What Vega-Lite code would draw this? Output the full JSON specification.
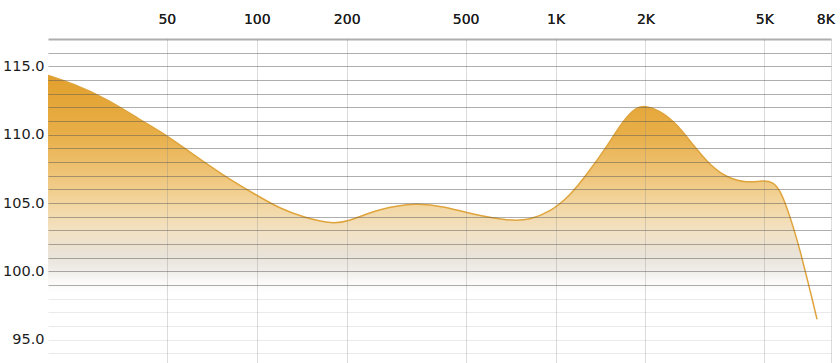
{
  "$schema": "https://vega.github.io/schema/vega-lite/v6.json",
  "width": 783,
  "height": 324,
  "autosize": {"type": "none"},
  "padding": {"left": 48, "top": 39, "right": 9, "bottom": 0},
  "background": "white",
  "config": {
    "view": {"stroke": null},
    "axis": {"labelFont": "DejaVu Sans", "labelFontSize": 14.5, "labelColor": "#1c1c1c", "title": null, "ticks": false, "domain": false}
  },
  "data": {
    "values": [
      {"f": 20, "db": 114.34},
      {"f": 24.25, "db": 113.73},
      {"f": 31.4, "db": 112.64},
      {"f": 40.6, "db": 111.1},
      {"f": 50, "db": 109.95},
      {"f": 59.6, "db": 108.73},
      {"f": 77.1, "db": 107.03},
      {"f": 100, "db": 105.56},
      {"f": 119.4, "db": 104.6},
      {"f": 142.9, "db": 103.97},
      {"f": 175.6, "db": 103.49},
      {"f": 200, "db": 103.6},
      {"f": 258, "db": 104.6},
      {"f": 342.7, "db": 105.03},
      {"f": 420.6, "db": 104.76},
      {"f": 516.8, "db": 104.22},
      {"f": 703, "db": 103.68},
      {"f": 821, "db": 103.78},
      {"f": 957, "db": 104.34},
      {"f": 1117, "db": 105.5},
      {"f": 1303, "db": 107.39},
      {"f": 1483, "db": 109.1},
      {"f": 1685, "db": 111.05},
      {"f": 1869, "db": 112.03},
      {"f": 1992, "db": 112.12},
      {"f": 2236, "db": 111.78},
      {"f": 2544, "db": 110.8},
      {"f": 2893, "db": 109.22},
      {"f": 3289, "db": 107.76},
      {"f": 3740, "db": 106.86},
      {"f": 4364, "db": 106.46},
      {"f": 4960, "db": 106.66},
      {"f": 5358, "db": 106.54},
      {"f": 5642, "db": 105.93},
      {"f": 5942, "db": 104.71},
      {"f": 6252, "db": 103.24},
      {"f": 6585, "db": 101.54},
      {"f": 6932, "db": 99.59},
      {"f": 7206, "db": 98.12},
      {"f": 7506, "db": 96.5}
    ]
  },
  "encoding": {
    "x": {
      "field": "f",
      "type": "quantitative",
      "scale": {"type": "log", "domain": [20, 8360], "nice": false},
      "axis": {
        "orient": "top",
        "values": [50, 100, 200, 500, 1000, 2000, 5000, 8000],
        "labelExpr": "datum.value >= 1000 ? (datum.value / 1000) + 'K' : datum.value",
        "grid": false,
        "labelPadding": 13,
        "labelFontSize": 14
      }
    },
    "y": {
      "field": "db",
      "type": "quantitative",
      "scale": {"domain": [93.3, 117], "nice": false, "zero": false},
      "axis": {
        "values": [94, 95, 96, 97, 98, 99, 100, 101, 102, 103, 104, 105, 106, 107, 108, 109, 110, 111, 112, 113, 114, 115, 116, 117],
        "labelExpr": "datum.value % 5 === 0 ? format(datum.value, '.1f') : ''",
        "labelPadding": 4,
        "grid": true,
        "gridColor": "#555555",
        "gridOpacity": {"condition": {"test": "datum.value < 99", "value": 0.12}, "value": 0.48},
        "gridWidth": {"condition": {"test": "datum.value > 116.5", "value": 2}, "value": 1},
        "zindex": 1
      }
    }
  },
  "layer": [
    {
      "mark": {
        "type": "area",
        "interpolate": "basis",
        "fill": {
          "x1": 0, "y1": 0, "x2": 0, "y2": 1,
          "gradient": "linear",
          "stops": [
            {"offset": 0, "color": "#E2A02C"},
            {"offset": 0.2, "color": "#E8AE47"},
            {"offset": 0.35, "color": "#EFC57A"},
            {"offset": 0.45, "color": "#F3D7A2"},
            {"offset": 0.55, "color": "#F2E2C6"},
            {"offset": 0.62, "color": "#E9E2D7"},
            {"offset": 0.67, "color": "#EEEBE6"},
            {"offset": 0.72, "color": "#FBFAF9"},
            {"offset": 0.76, "color": "#FFFFFF"},
            {"offset": 1, "color": "#FFFFFF"}
          ]
        }
      },
      "encoding": {
        "y2": {"datum": 93.3}
      }
    },
    {
      "mark": {"type": "line", "interpolate": "basis", "stroke": "#DFA43C", "strokeWidth": 1.5}
    },
    {
      "mark": {"type": "rule", "opacity": 0},
      "encoding": {
        "x": {
          "field": "f",
          "type": "quantitative",
          "axis": {
            "orient": "bottom",
            "values": [50, 100, 200, 500, 1000, 2000, 5000, 8360],
            "labels": false,
            "grid": true,
            "gridColor": "#888888",
            "gridOpacity": 0.3,
            "zindex": 1
          }
        }
      }
    }
  ]
}
